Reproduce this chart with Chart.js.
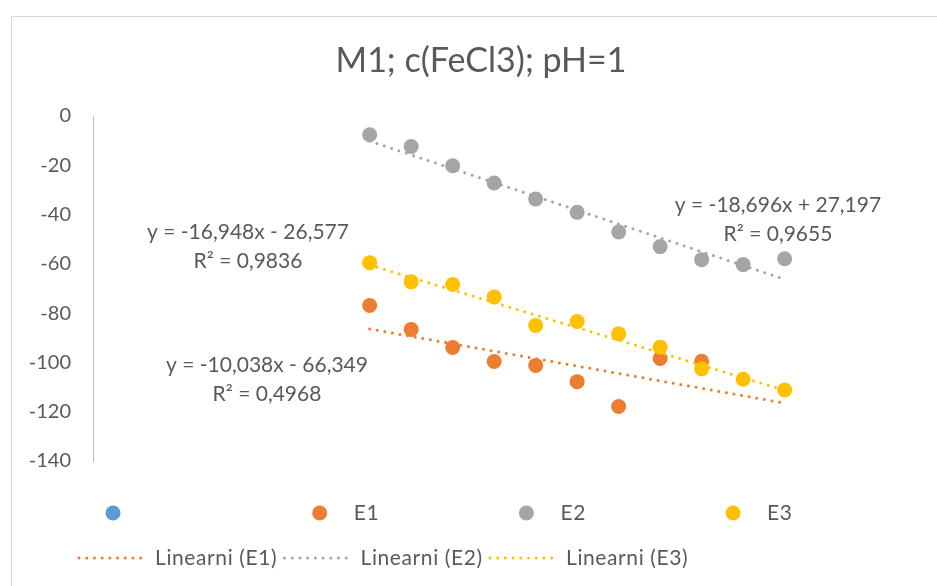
<!DOCTYPE html>
<html>
<head>
<meta charset="utf-8">
<script src="https://cdn.jsdelivr.net/npm/chart.js@4"></script>
<style>
  html, body { margin: 0; padding: 0; background: #fff; }
  #wrap { width: 937px; height: 586px; }
</style>
</head>
<body>
<div id="wrap"><canvas id="chart" width="937" height="586"></canvas></div>
<script>
// values
const xVals  = [2.0, 2.3, 2.6, 2.9, 3.2, 3.5, 3.8, 4.1, 4.4, 4.7, 5.0];
const e1Vals = [-76.9, -86.6, -93.9, -99.6, -101.2, -107.8, -117.9, -98.4, -99.5];
const e2Vals = [-7.6, -12.4, -20.2, -27.2, -33.7, -39.1, -47.1, -53.0, -58.3, -60.3, -57.9];
const e3Vals = [-59.5, -67.3, -68.4, -73.4, -85.0, -83.4, -88.4, -93.8, -102.6, -106.8, -111.2];
const yTicks = [0, -20, -40, -60, -80, -100, -120, -140];

// trendlines as printed in the chart
const seriesNames = ['E1', 'E2', 'E3'];
const slopes      = [-10.038, -18.696, -16.948];
const intercepts  = [-66.349, 27.197, -26.577];
const rSquared    = ['0,4968', '0,9655', '0,9836'];
const eqTexts     = ['y = -10,038x - 66,349', 'y = -18,696x + 27,197', 'y = -16,948x - 26,577'];

const TITLE  = 'M1; c(FeCl3); pH=1';
const FONT   = 'Lato, "Open Sans", sans-serif';
const TXT    = '#595959';
const colors = ['#5B9BD5', '#ED7D31', '#A5A5A5', '#FFC000'];

const pts = vals => vals.map((y, i) => ({ x: xVals[i], y }));
const trend = k => {
  const x0 = xVals[0], x1 = xVals[xVals.length - 1];
  return [{ x: x0, y: slopes[k] * x0 + intercepts[k] }, { x: x1, y: slopes[k] * x1 + intercepts[k] }];
};

const pointSet = (label, data, color, order) => ({
  type: 'scatter', label, data, order,
  backgroundColor: color, borderColor: color,
  pointRadius: 7.5, pointHoverRadius: 7.5, borderWidth: 0,
});
const trendSet = k => ({
  type: 'line', label: 'Linearni (' + seriesNames[k] + ')', data: trend(k), order: 0,
  borderColor: colors[k + 1], borderWidth: 3, borderDash: [0.01, 7.7], borderCapStyle: 'round',
  pointRadius: 0, fill: false, tension: 0,
});

// label boxes for the trendline equations (centre x, first line y)
const eqPos = [[267, 365], [778, 205], [248, 232]];

const decor = {
  id: 'decor',
  beforeDraw(chart) {
    const c = chart.ctx;
    c.save();
    c.fillStyle = '#fff';
    c.fillRect(0, 0, chart.width, chart.height);
    c.strokeStyle = '#d9d9d9';
    c.lineWidth = 1;
    c.strokeRect(11.5, 16.5, 960, 600);
    c.restore();
  },
  afterDraw(chart) {
    const c = chart.ctx;
    const ds = chart.data.datasets;
    c.save();
    c.fillStyle = TXT;
    c.textBaseline = 'middle';

    c.textAlign = 'center';
    c.font = '34px ' + FONT;
    c.fillText(TITLE, 481, 61);

    c.font = '21px ' + FONT;
    eqPos.forEach(([x, y], k) => {
      c.fillText(eqTexts[k], x, y);
      c.fillText('R² = ' + rSquared[k], x, y + 29);
    });

    // legend row 1: markers
    c.textAlign = 'left';
    c.letterSpacing = '0.6px';
    for (let i = 0; i < 4; i++) {
      const mx = 113 + i * 206.7;
      c.fillStyle = ds[i].backgroundColor;
      c.beginPath();
      c.arc(mx, 513, 7.5, 0, Math.PI * 2);
      c.fill();
      if (ds[i].label) {
        c.fillStyle = TXT;
        c.fillText(ds[i].label, mx + 34, 513);
      }
    }
    // legend row 2: trendlines
    for (let k = 0; k < 3; k++) {
      const t = ds[4 + k];
      const lx = 79 + k * 205.5;
      c.strokeStyle = t.borderColor;
      c.lineWidth = 3;
      c.lineCap = 'round';
      c.setLineDash([0.01, 7.7]);
      c.beginPath();
      c.moveTo(lx, 558);
      c.lineTo(lx + 65, 558);
      c.stroke();
      c.fillStyle = TXT;
      c.fillText(t.label, lx + 76, 558);
    }
    c.restore();
  }
};

new Chart(document.getElementById('chart'), {
  data: {
    datasets: [
      pointSet('', [], colors[0], 4),
      pointSet('E1', pts(e1Vals), colors[1], 3),
      pointSet('E2', pts(e2Vals), colors[2], 2),
      pointSet('E3', pts(e3Vals), colors[3], 1),
      trendSet(0), trendSet(1), trendSet(2),
    ],
  },
  options: {
    responsive: false,
    animation: false,
    devicePixelRatio: 1,
    layout: { padding: { top: 116, bottom: 125, left: 0, right: 14 } },
    plugins: { legend: { display: false }, title: { display: false }, tooltip: { enabled: false } },
    scales: {
      x: { type: 'linear', display: false, min: 0, max: 6 },
      y: {
        type: 'linear', min: -140, max: 0,
        afterBuildTicks: s => { s.ticks = yTicks.map(v => ({ value: v })); },
        afterFit: s => { s.width = 93; },
        grid: { display: false, drawTicks: false },
        border: { display: true, color: '#bfbfbf', width: 1 },
        ticks: { color: TXT, font: { family: FONT, size: 20 }, padding: 22 },
      },
    },
  },
  plugins: [decor],
});
</script>
</body>
</html>
